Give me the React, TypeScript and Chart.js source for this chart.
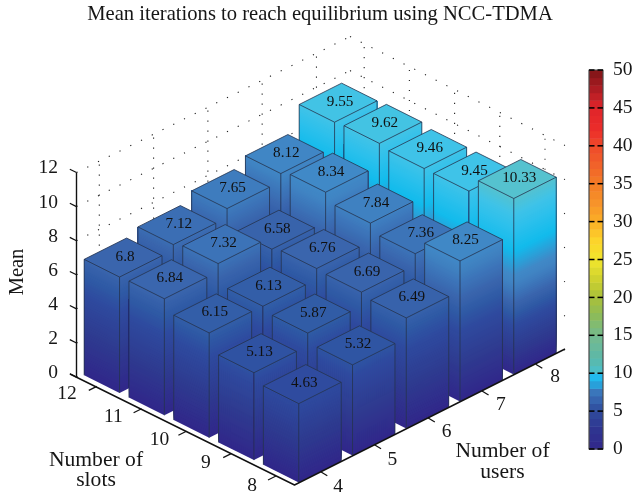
import React, { useEffect, useRef } from "react";
import { Chart, registerables } from "chart.js";

Chart.register(...registerables);

const users = [4, 5, 6, 7, 8];
const slots = [12, 11, 10, 9, 8];
const slot12 = [6.8, 7.12, 7.65, 8.12, 9.55];
const slot11 = [6.84, 7.32, 6.58, 8.34, 9.62];
const slot10 = [6.15, 6.13, 6.76, 7.84, 9.46];
const slot9 = [5.13, 5.87, 6.69, 7.36, 9.45];
const slot8 = [4.63, 5.32, 6.49, 8.25, 10.33];
const seriesBySlot = [slot12, slot11, slot10, slot9, slot8];
const meanTicks = [0, 2, 4, 6, 8, 10, 12];
const colorTicks = [0, 5, 10, 15, 20, 25, 30, 35, 40, 45, 50];

const SERIF = '"Liberation Serif", serif';
const INK = "#161616";

type Stop = [number, string];
const surfaceStops: Stop[] = [
  [0, "#31278a"], [0.145, "#2f3b90"], [0.28, "#2f4b9f"], [0.34, "#2f5aa5"],
  [0.4, "#3a65ad"], [0.45, "#3c72b7"], [0.52, "#4084c3"], [0.56, "#4089c7"],
  [0.7, "#12bbec"], [0.82, "#2cc0ec"], [0.91, "#3fc3e8"], [1, "#55c2cf"],
];
const barStops: Stop[] = [
  [0, "#31278a"], [2.5, "#2f3490"], [5, "#2f4a9c"], [7.5, "#3a76bb"], [9, "#1fb5ea"],
  [9.6, "#22bbee"], [10.2, "#4bbfc9"], [12, "#5cb8a8"], [15, "#75ba8d"], [17.5, "#8bbb5c"],
  [20, "#a9c03a"], [22.5, "#cfd22f"], [25, "#f2e62c"], [27.5, "#fcd42b"], [30, "#fbae26"],
  [32.5, "#f7932a"], [35, "#f37c25"], [37.5, "#f1622a"], [40, "#ef4a2a"], [42, "#ec2e2a"],
  [45, "#e0242a"], [47, "#b61e25"], [50, "#7d1416"],
];
const heightToShade: [number, number][] = [
  [0, 0], [4.63, 0.28], [6.8, 0.4], [8.34, 0.56], [9.45, 0.91], [10.33, 1],
];

const hex = (c: string) => [1, 3, 5].map((i) => parseInt(c.slice(i, i + 2), 16));
function sample(stops: Stop[], v: number) {
  if (v <= stops[0][0]) return stops[0][1];
  for (let i = 1; i < stops.length; i++) {
    if (v <= stops[i][0]) {
      const t = (v - stops[i - 1][0]) / (stops[i][0] - stops[i - 1][0]);
      const a = hex(stops[i - 1][1]);
      const b = hex(stops[i][1]);
      return `rgb(${a.map((x, k) => Math.round(x + (b[k] - x) * t)).join(",")})`;
    }
  }
  return stops[stops.length - 1][1];
}
function shadeOf(h: number) {
  for (let i = 1; i < heightToShade.length; i++) {
    if (h <= heightToShade[i][0]) {
      const [a, x] = heightToShade[i - 1];
      const [b, y] = heightToShade[i];
      return x + ((h - a) / (b - a)) * (y - x);
    }
  }
  return 1;
}

const view3d = {
  id: "view3d",
  afterDatasetsDraw(chart: any) {
    const ctx: CanvasRenderingContext2D = chart.ctx;
    const U = chart.scales.users;
    const S = chart.scales.slots;
    const Z = chart.scales.y;
    const C = chart.scales.color;
    const du = (v: number) => U.getPixelForValue(v) - U.getPixelForValue(users[0]);
    const ds = (v: number) => S.getPixelForValue(v) - S.getPixelForValue(8);
    const zp = (v: number) => Z.getPixelForValue(v);
    const project = (user: number, slot: number, z: number): [number, number] => {
      const a = du(user);
      const b = ds(slot);
      return [302.3 + a - b, zp(z) + 86 - a * 0.5023 - b * 0.5];
    };
    const line = (pts: [number, number][], close = false) => {
      ctx.beginPath();
      pts.forEach((p, i) => (i ? ctx.lineTo(p[0], p[1]) : ctx.moveTo(p[0], p[1])));
      if (close) ctx.closePath();
    };

    // back walls: dotted grid
    const leftWall = (t: number, z: number): [number, number] => [76.5 + t, zp(z) - t * 0.497];
    const rightWall = (t: number, z: number): [number, number] => [350 + t, zp(z) - 136 + t * 0.507];
    ctx.save();
    ctx.strokeStyle = "#222";
    ctx.lineWidth = 1.1;
    ctx.setLineDash([1.2, 10.8]);
    meanTicks.forEach((m) => {
      line([leftWall(0, m), leftWall(273.5, m)]);
      ctx.stroke();
      line([rightWall(0, m), rightWall(215, m)]);
      ctx.stroke();
    });
    ctx.setLineDash([1.2, 8.8]);
    users.forEach((u) => {
      const t = 22.8 + du(u) * 1.01;
      line([leftWall(t, 0), leftWall(t, 12)]);
      ctx.stroke();
    });
    slots.forEach((s) => {
      const t = 195 - ds(s) * 1.009;
      line([rightWall(t, 0), rightWall(t, 12)]);
      ctx.stroke();
    });
    ctx.restore();

    // bars, painted back to front
    const half = 0.395;
    chart.data.datasets.forEach((ds3: any, di: number) => {
      const meta = chart.getDatasetMeta(di);
      for (let i = meta.data.length - 1; i >= 0; i--) {
        const user = ds3.data[i].x;
        const h = ds3.data[i].y;
        const slot = ds3.slot;
        const corner = (a: number, b: number, z: number) => project(user + a * half, slot + b * half, z);
        const top = shadeOf(h);
        const face = (a1: number, b1: number, a2: number, b2: number) => {
          const n = 90;
          for (let k = 0; k < n; k++) {
            const z0 = (h * k) / n;
            ctx.fillStyle = sample(surfaceStops, ((k + 0.5) / n) * top);
            line([corner(a1, b1, z0), corner(a2, b2, z0), corner(a2, b2, h), corner(a1, b1, h)], true);
            ctx.fill();
          }
        };
        face(-1, 1, -1, -1); // left face
        face(-1, -1, 1, -1); // right face
        ctx.fillStyle = sample(surfaceStops, top);
        line([corner(-1, -1, h), corner(1, -1, h), corner(1, 1, h), corner(-1, 1, h)], true);
        ctx.fill();
        ctx.strokeStyle = "#26344e";
        ctx.lineWidth = 0.8;
        ctx.lineJoin = "round";
        line([corner(-1, -1, h), corner(1, -1, h), corner(1, 1, h), corner(-1, 1, h)], true);
        ctx.stroke();
        line([corner(-1, 1, 0), corner(-1, 1, h)]);
        ctx.stroke();
        line([corner(-1, -1, 0), corner(-1, -1, h)]);
        ctx.stroke();
        line([corner(1, -1, 0), corner(1, -1, h)]);
        ctx.stroke();
        const c = project(user, slot, h);
        ctx.font = `15.2px ${SERIF}`;
        ctx.fillStyle = "#101010";
        ctx.textAlign = "center";
        ctx.textBaseline = "middle";
        ctx.fillText(String(h), c[0] + 2, c[1] - 1);
      }
    });

    // axis frame
    ctx.strokeStyle = "#111";
    ctx.lineWidth = 1.4;
    ctx.lineCap = "butt";
    line([[70, 374], [294.5, 485], [565, 349]]);
    ctx.stroke();
    line([[76.5, zp(12)], [76.5, zp(0) + 1]]);
    ctx.stroke();
    ctx.lineWidth = 1.2;
    meanTicks.forEach((m) => {
      line([[76.5, zp(m)], [69.8, zp(m) - 3.3]]);
      ctx.stroke();
    });
    const tickFont = `19.5px ${SERIF}`;
    ctx.font = tickFont;
    ctx.fillStyle = INK;
    ctx.textAlign = "center";
    ctx.textBaseline = "middle";
    users.forEach((u) => {
      const a = du(u);
      const x = 320.7 + a;
      const y = 471.7 - a * 0.5;
      line([[x, y], [x + 6.6, y + 4]]);
      ctx.stroke();
      ctx.fillText(String(u), 338 + a * 1.01, 487 - a * 0.512);
    });
    slots.forEach((s) => {
      const b = ds(s);
      const x = 276 - b;
      const y = 476 - b * 0.5;
      line([[x, y], [x - 8, y + 4]]);
      ctx.stroke();
      ctx.fillText(String(s), 252 - b * 1.032, 486 - b * 0.513);
    });

    // axis titles
    ctx.font = `21.6px ${SERIF}`;
    ctx.fillText("Number of", 96, 460);
    ctx.fillText("slots", 96, 480);
    ctx.fillText("Number of", 502.5, 451);
    ctx.fillText("users", 502.5, 472);
    ctx.save();
    ctx.font = `20.5px ${SERIF}`;
    ctx.translate(17.5, 272);
    ctx.rotate(-Math.PI / 2);
    ctx.fillText("Mean", 0, 0);
    ctx.restore();

    // colour bar
    const cl = 589;
    const cr = 603;
    for (let v = 0; v < 50; v++) {
      ctx.fillStyle = sample(barStops, v + 0.5);
      const y0 = C.getPixelForValue(v);
      const y1 = C.getPixelForValue(v + 1);
      ctx.fillRect(cl, y1, cr - cl, y0 - y1 + 0.5);
    }
    ctx.strokeStyle = "#4a4a4a";
    ctx.lineWidth = 1.2;
    ctx.strokeRect(cl, C.getPixelForValue(50), cr - cl, C.getPixelForValue(0) - C.getPixelForValue(50));
    ctx.strokeStyle = "#000";
    ctx.lineWidth = 1.5;
    colorTicks.forEach((v) => {
      const y = C.getPixelForValue(v);
      line([[cl, y], [cl + 5.5, y]]);
      ctx.stroke();
      line([[cr - 5.5, y], [cr, y]]);
      ctx.stroke();
    });
  },
};

export default function App() {
  const ref = useRef<HTMLCanvasElement | null>(null);
  useEffect(() => {
    document.body.style.margin = "0";
    const chart = new Chart(ref.current as HTMLCanvasElement, {
      type: "scatter",
      data: {
        datasets: seriesBySlot.map((values, i) => ({
          label: `Slots ${slots[i]}`,
          slot: slots[i],
          data: values.map((y, k) => ({ x: users[k], y })),
          xAxisID: "users",
          yAxisID: "y",
          pointRadius: 0,
          showLine: false,
        })) as any,
      },
      options: {
        responsive: false,
        animation: false,
        devicePixelRatio: 1,
        events: [],
        layout: { padding: { left: 7, right: 0, top: 0, bottom: 47 } },
        plugins: {
          legend: { display: false },
          tooltip: { enabled: false },
          title: {
            display: true,
            text: "Mean iterations to reach equilibrium using NCC-TDMA",
            color: INK,
            font: { family: SERIF, size: 20.6, weight: "normal", lineHeight: 1.2 },
            padding: { top: 2.6, bottom: 42.7 },
          },
        },
        scales: {
          users: { type: "linear", axis: "x", display: false, min: 3, max: 12.795 },
          slots: { type: "linear", axis: "x", display: false, min: 7, max: 18.752 },
          y: {
            type: "linear",
            position: "left",
            min: -4.225,
            max: 18.016,
            grid: { display: false, drawTicks: false },
            border: { display: false },
            afterBuildTicks: (s: any) => {
              s.ticks = meanTicks.map((value) => ({ value }));
            },
            afterFit: (s: any) => {
              s.width = 69.5;
            },
            ticks: {
              color: INK,
              padding: 18.5,
              labelOffset: -4.2,
              autoSkip: false,
              font: { family: SERIF, size: 19.5 },
            },
          },
          color: {
            type: "linear",
            position: "right",
            min: 0,
            max: 50,
            grid: { display: false, drawTicks: false },
            border: { display: false },
            afterBuildTicks: (s: any) => {
              s.ticks = colorTicks.map((value) => ({ value }));
            },
            afterFit: (s: any) => {
              s.width = 30;
            },
            ticks: {
              color: INK,
              padding: 10,
              autoSkip: false,
              font: { family: SERIF, size: 19.5 },
            },
          },
        },
      } as any,
      plugins: [view3d],
    });
    return () => chart.destroy();
  }, []);
  return <canvas ref={ref} width={633} height={496} style={{ display: "block" }} />;
}
